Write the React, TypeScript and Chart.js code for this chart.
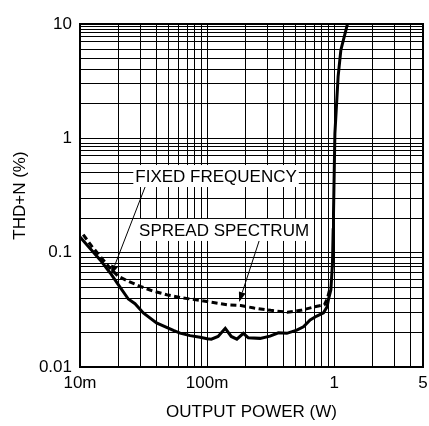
import { useEffect, useRef } from 'react';
import { Chart, registerables } from 'chart.js';

Chart.register(...registerables);

// ---- Data ----
const xGridValues = [
  0.01, 0.02, 0.03, 0.04, 0.05, 0.06, 0.07, 0.08, 0.09,
  0.1, 0.2, 0.3, 0.4, 0.5, 0.6, 0.7, 0.8, 0.9,
  1, 2, 3, 4, 5,
];
const xTickValues = [0.01, 0.1, 1, 5];
const xTickLabels = ['10m', '100m', '1', '5'];

const yGridValues = [
  0.01, 0.02, 0.03, 0.04, 0.05, 0.058, 0.067, 0.075, 0.081, 0.09,
  0.1, 0.2, 0.3, 0.4, 0.5, 0.6, 0.71, 0.78, 0.85, 0.91,
  1, 2, 3, 4, 5, 6, 7.1, 7.7, 8.4, 9, 9.5,
  10,
];
const yTickValues = [0.01, 0.1, 1, 10];
const yTickLabels = ['0.01', '0.1', '1', '10'];

// Fixed frequency (solid)
const fixedPower = [
  0.01, 0.01436, 0.0173, 0.02, 0.024, 0.0271, 0.0315, 0.04, 0.0543, 0.0613,
  0.0735, 0.0881, 0.1, 0.108, 0.122, 0.139, 0.155, 0.1715, 0.193, 0.211,
  0.261, 0.313, 0.364, 0.424, 0.508, 0.573, 0.647, 0.73, 0.824, 0.88,
  0.9, 0.942, 0.97, 0.982, 0.988, 1.013, 1.074, 1.129, 1.273,
];
const fixedThd = [
  0.137, 0.0868, 0.0664, 0.0525, 0.0393, 0.0358, 0.0297, 0.0243, 0.0209, 0.0198,
  0.0188, 0.0182, 0.0177, 0.0175, 0.0185, 0.0218, 0.0185, 0.0175, 0.0197, 0.018,
  0.0178, 0.0186, 0.0199, 0.0197, 0.021, 0.0225, 0.0258, 0.0279, 0.0298, 0.0337,
  0.0386, 0.0474, 0.081, 0.159, 0.22, 1.1, 3.46, 5.93, 10,
];

// Spread spectrum (dashed)
const spreadPower = [
  0.0106, 0.0124, 0.0144, 0.0172, 0.02, 0.024, 0.0297, 0.0378, 0.0481, 0.065,
  0.0881, 0.112, 0.144, 0.184, 0.234, 0.317, 0.429, 0.545, 0.695, 0.837,
  0.886, 0.914, 0.942,
];
const spreadThd = [
  0.1436, 0.1136, 0.093, 0.0734, 0.0621, 0.0562, 0.0508, 0.046, 0.0429, 0.0401,
  0.0383, 0.0366, 0.035, 0.0345, 0.0328, 0.0313, 0.0301, 0.0313, 0.0335, 0.035,
  0.04, 0.046, 0.0474,
];

// Annotations (in data coordinates)
const labelTexts = ['FIXED FREQUENCY', 'SPREAD SPECTRUM'];
const labelX = [0.1177, 0.136];
const labelY = [0.468, 0.158];
const arrowFromX = [0.0325, 0.2566];
const arrowFromY = [0.375, 0.1265];
const arrowToX = [0.01755, 0.1787];
const arrowToY = [0.0638, 0.037];

const FONT_FAMILY = '"Liberation Sans", Arial, Helvetica, sans-serif';
const FONT_SIZE = 17;

function findLabel(values: number[], labels: string[], v: number): string {
  for (let i = 0; i < values.length; i++) {
    if (Math.abs(Math.log10(values[i]) - Math.log10(v)) < 1e-6) return labels[i];
  }
  return '';
}

const annotationPlugin = {
  id: 'thdAnnotations',
  afterDatasetsDraw(chart: any) {
    const { ctx, chartArea, scales } = chart;
    const xs = scales.x;
    const ys = scales.y;
    ctx.save();
    // Frame
    ctx.strokeStyle = '#000';
    ctx.lineWidth = 2;
    ctx.strokeRect(chartArea.left, chartArea.top, chartArea.right - chartArea.left, chartArea.bottom - chartArea.top);

    // Text boxes
    ctx.font = `${FONT_SIZE}px ${FONT_FAMILY}`;
    ctx.textAlign = 'center';
    ctx.textBaseline = 'middle';
    for (let i = 0; i < labelTexts.length; i++) {
      const cx = xs.getPixelForValue(labelX[i]);
      const cy = ys.getPixelForValue(labelY[i]);
      const w = ctx.measureText(labelTexts[i]).width + 4;
      const h = 22;
      ctx.fillStyle = '#fff';
      ctx.fillRect(cx - w / 2, cy - h / 2, w, h);
      ctx.fillStyle = '#000';
      ctx.fillText(labelTexts[i], cx, cy + 1);
    }

    // Arrows
    ctx.lineWidth = 1;
    for (let i = 0; i < arrowFromX.length; i++) {
      const x1 = xs.getPixelForValue(arrowFromX[i]);
      const y1 = ys.getPixelForValue(arrowFromY[i]);
      const x2 = xs.getPixelForValue(arrowToX[i]);
      const y2 = ys.getPixelForValue(arrowToY[i]);
      const ang = Math.atan2(y2 - y1, x2 - x1);
      const len = 10;
      const hw = 3.5;
      const bx = x2 - len * Math.cos(ang);
      const by = y2 - len * Math.sin(ang);
      ctx.beginPath();
      ctx.moveTo(x1, y1);
      ctx.lineTo(bx, by);
      ctx.stroke();
      ctx.beginPath();
      ctx.moveTo(x2, y2);
      ctx.lineTo(bx + hw * Math.sin(ang), by - hw * Math.cos(ang));
      ctx.lineTo(bx - hw * Math.sin(ang), by + hw * Math.cos(ang));
      ctx.closePath();
      ctx.fill();
    }
    ctx.restore();
  },
};

export default function App() {
  const canvasRef = useRef<HTMLCanvasElement | null>(null);

  useEffect(() => {
    document.body.style.margin = '0';
    const canvas = canvasRef.current;
    if (!canvas) return;

    const fixedData = fixedPower.map((x, i) => ({ x, y: fixedThd[i] }));
    const spreadData = spreadPower.map((x, i) => ({ x, y: spreadThd[i] }));

    const tickFont = { family: FONT_FAMILY, size: FONT_SIZE };

    const chart = new Chart(canvas, {
      type: 'scatter',
      data: {
        datasets: [
          {
            label: 'FIXED FREQUENCY',
            data: fixedData,
            showLine: true,
            borderColor: '#000',
            borderWidth: 3,
            pointRadius: 0,
            tension: 0,
            fill: false,
          },
          {
            label: 'SPREAD SPECTRUM',
            data: spreadData,
            showLine: true,
            borderColor: '#000',
            borderWidth: 3,
            borderDash: [6, 3.5],
            pointRadius: 0,
            tension: 0,
            fill: false,
          },
        ],
      },
      options: {
        responsive: false,
        animation: false,
        layout: { padding: { top: 24, right: 6, left: 0, bottom: 0 } },
        plugins: {
          legend: { display: false },
          tooltip: { enabled: false },
        },
        scales: {
          x: {
            type: 'logarithmic',
            min: 0.01,
            max: 5,
            afterBuildTicks: (s: any) => {
              s.ticks = xGridValues.map((v) => ({ value: v }));
            },
            afterFit: (s: any) => {
              s.height = 59;
              s.paddingLeft = 0;
              s.paddingRight = 0;
            },
            ticks: {
              autoSkip: false,
              maxRotation: 0,
              minRotation: 0,
              padding: 6,
              color: '#000',
              font: tickFont,
              callback: (v: any) => findLabel(xTickValues, xTickLabels, Number(v)),
            },
            grid: { color: '#000', lineWidth: 1, drawTicks: false },
            border: { display: true, color: '#000', width: 2 },
            title: {
              display: true,
              text: 'OUTPUT POWER (W)',
              color: '#000',
              font: { family: FONT_FAMILY, size: FONT_SIZE },
              padding: { top: 0, bottom: 3 },
            },
          },
          y: {
            type: 'logarithmic',
            min: 0.01,
            max: 10,
            afterBuildTicks: (s: any) => {
              s.ticks = yGridValues.map((v) => ({ value: v }));
            },
            afterFit: (s: any) => {
              s.width = 80;
              s.paddingTop = 0;
              s.paddingBottom = 0;
            },
            ticks: {
              autoSkip: false,
              padding: 8,
              color: '#000',
              font: tickFont,
              callback: (v: any) => findLabel(yTickValues, yTickLabels, Number(v)),
            },
            grid: { color: '#000', lineWidth: 1, drawTicks: false },
            border: { display: true, color: '#000', width: 2 },
            title: {
              display: true,
              text: 'THD+N (%)',
              color: '#000',
              font: { family: FONT_FAMILY, size: FONT_SIZE },
              padding: { top: 10, bottom: 0 },
            },
          },
        },
      },
      plugins: [annotationPlugin],
    } as any);

    return () => {
      chart.destroy();
    };
  }, []);

  return (
    <div style={{ width: 429, height: 426 }}>
      <canvas ref={canvasRef} width={429} height={426} style={{ display: 'block' }} />
    </div>
  );
}
